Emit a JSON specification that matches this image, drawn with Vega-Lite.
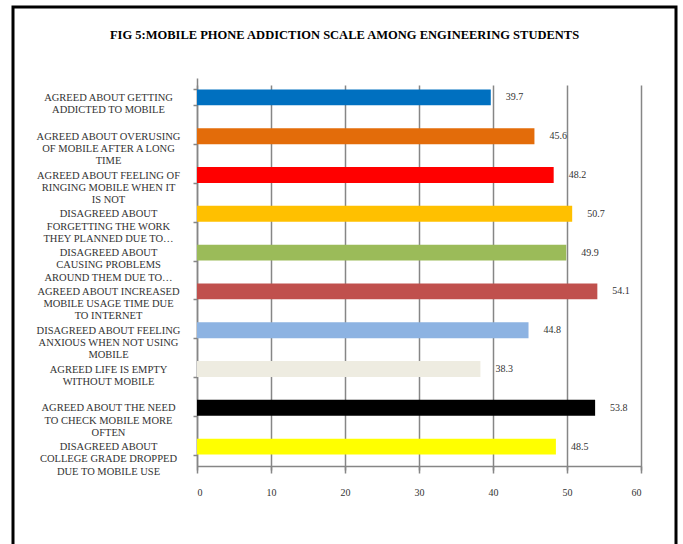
{
  "$schema": "https://vega.github.io/schema/vega-lite/v6.json",
  "width": 663,
  "height": 537,
  "autosize": "none",
  "padding": {"left": 13, "top": 7, "right": 7, "bottom": 0},
  "background": "white",
  "view": {"stroke": "black", "strokeWidth": 3, "strokeDash": [1200, 663, 537]},
  "title": {
    "text": "FIG 5:MOBILE PHONE ADDICTION SCALE AMONG ENGINEERING STUDENTS",
    "font": "Liberation Serif",
    "fontSize": 12.5,
    "fontWeight": "bold",
    "color": "black",
    "anchor": "middle",
    "frame": "group",
    "offset": -39
  },
  "data": {
    "values": [
      {"label": "AGREED ABOUT GETTING|ADDICTED TO MOBILE", "value": 39.7},
      {"label": "AGREED ABOUT OVERUSING|OF MOBILE AFTER A LONG|TIME", "value": 45.6},
      {"label": "AGREED ABOUT FEELING OF|RINGING MOBILE WHEN IT|IS NOT", "value": 48.2},
      {"label": "DISAGREED ABOUT|FORGETTING THE WORK|THEY PLANNED DUE TO…", "value": 50.7},
      {"label": "DISAGREED ABOUT|CAUSING PROBLEMS|AROUND THEM DUE TO…", "value": 49.9},
      {"label": "AGREED ABOUT INCREASED|MOBILE USAGE TIME DUE|TO INTERNET", "value": 54.1},
      {"label": "DISAGREED ABOUT FEELING|ANXIOUS WHEN NOT USING|MOBILE", "value": 44.8},
      {"label": "AGREED LIFE IS EMPTY|WITHOUT MOBILE", "value": 38.3},
      {"label": "AGREED ABOUT THE NEED|TO CHECK MOBILE MORE|OFTEN", "value": 53.8},
      {"label": "DISAGREED ABOUT|COLLEGE GRADE DROPPED|DUE TO MOBILE USE", "value": 48.5}
    ]
  },
  "encoding": {
    "y": {
      "field": "label",
      "type": "nominal",
      "sort": null,
      "scale": {"range": [71, 459], "paddingInner": 0.59, "paddingOuter": 0.295},
      "axis": {
        "title": null,
        "offset": -184,
        "grid": false,
        "tickBand": "extent",
        "tickSize": 4,
        "tickColor": "#868686",
        "tickWidth": 1.5,
        "domainColor": "#868686",
        "domainWidth": 1.5,
        "labelExpr": "split(datum.label, '|')",
        "labelAlign": "center",
        "labelBaseline": "middle",
        "labelPadding": 85,
        "labelLimit": 250,
        "labelFont": "Liberation Serif",
        "labelFontSize": 10.5,
        "labelLineHeight": 12.3,
        "labelColor": "#333333"
      }
    },
    "x": {
      "field": "value",
      "type": "quantitative",
      "scale": {"domain": [0, 60], "range": [184, 628], "nice": false},
      "axis": {
        "title": null,
        "offset": -78,
        "values": [0, 10, 20, 30, 40, 50, 60],
        "grid": true,
        "gridColor": "#868686",
        "gridWidth": 1.5,
        "tickSize": 4,
        "tickColor": "#868686",
        "tickWidth": 1.5,
        "domainColor": "#868686",
        "domainWidth": 1.5,
        "labelPadding": 17,
        "labelFont": "Liberation Serif",
        "labelFontSize": 10,
        "labelColor": "#333333"
      }
    }
  },
  "layer": [
    {
      "mark": {"type": "bar"},
      "encoding": {
        "color": {
          "field": "label",
          "type": "nominal",
          "sort": null,
          "legend": null,
          "scale": {
            "range": ["#0070C0", "#E36C0A", "#FF0000", "#FFC000", "#9BBB59", "#C0504D", "#8DB3E2", "#EEECE1", "#000000", "#FFFF00"]
          }
        }
      }
    },
    {
      "mark": {"type": "text", "align": "left", "baseline": "middle", "dx": 15, "font": "Liberation Serif", "fontSize": 10, "color": "#333333"},
      "encoding": {
        "text": {"field": "value", "type": "quantitative", "format": ".1f"}
      }
    }
  ]
}
